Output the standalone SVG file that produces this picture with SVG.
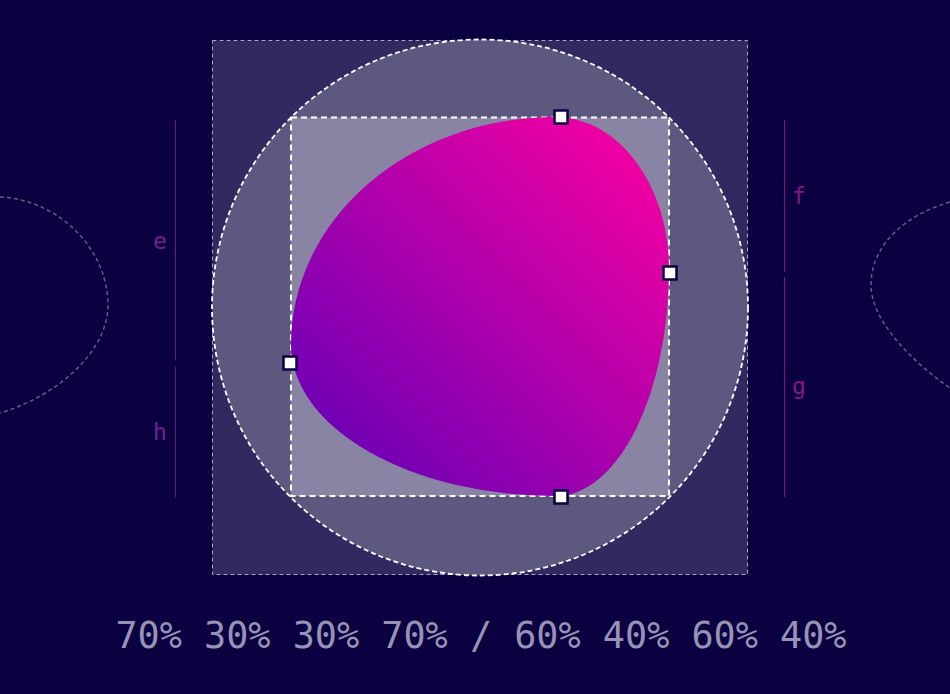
<svg xmlns="http://www.w3.org/2000/svg" width="950" height="694" viewBox="0 0 950 694">
<style>
.ghost{fill:none;stroke:#615d8a;stroke-width:1.5;stroke-dasharray:4 3}
.handle{fill:#ffffff;stroke:#0b0040;stroke-width:2.5}
.lbl{font-family:"DejaVu Sans Mono","Liberation Mono",monospace;font-size:23px;text-anchor:middle}
.lblL{fill:#6c2590}
.lblR{fill:#861683}
.lineL{stroke:#5e2088;stroke-width:1}
.lineR{stroke:#86107a;stroke-width:1}
</style>
<defs>
<linearGradient id="blobGrad" x1="291" y1="496" x2="669" y2="117" gradientUnits="userSpaceOnUse">
<stop offset="0" stop-color="#5a00b8"/>
<stop offset="1" stop-color="#ff00a0"/>
</linearGradient>
</defs>
<rect width="950" height="694" fill="#0b0040"/>
<g id="ghost-left"><path class="ghost" d="M0,197 C60,200 108,250 108,305 C108,350 60,395 0,413"/></g>
<g id="ghost-right"><path class="ghost" d="M950,202 C905,215 871,245 871,285 C871,320 910,360 950,388"/></g>
<g id="outer-square"><rect x="212.5" y="40.5" width="535" height="534" fill="#31295f" stroke="#a8a4c2" stroke-width="1" stroke-dasharray="4 3"/></g>
<g id="circle"><circle cx="480" cy="307.5" r="268" fill="#5d5880" stroke="#ffffff" stroke-width="1.8" stroke-dasharray="5 3"/></g>
<g id="inner-box"><rect x="291" y="117.5" width="378" height="378.5" fill="#8984a4" stroke="#ffffff" stroke-width="2" stroke-dasharray="6 4"/></g>
<g id="blob"><path fill="url(#blobGrad)" d="M291,344.4 A264.6,227.4 0 0 1 555.6,117 A113.4,151.6 0 0 1 669,268.6 A113.4,227.4 0 0 1 555.6,496 A264.6,151.6 0 0 1 291,344.4 Z"/></g>
<g id="handles">
<rect class="handle" x="554.5" y="110.5" width="13" height="13"/>
<rect class="handle" x="663.5" y="266.5" width="13" height="13"/>
<rect class="handle" x="554.5" y="490.5" width="13" height="13"/>
<rect class="handle" x="283.5" y="356.5" width="13" height="13"/>
</g>
<g id="connectors">
<line class="lineL" x1="175.5" y1="120" x2="175.5" y2="360"/>
<line class="lineL" x1="175.5" y1="367" x2="175.5" y2="497"/>
<line class="lineR" x1="784.5" y1="120" x2="784.5" y2="272"/>
<line class="lineR" x1="784.5" y1="277" x2="784.5" y2="497"/>
</g>
<g id="label-e"><text class="lbl lblL" x="160" y="249">e</text></g>
<g id="label-h"><text class="lbl lblL" x="160" y="440">h</text></g>
<g id="label-f"><text class="lbl lblR" x="799" y="204">f</text></g>
<g id="label-g"><text class="lbl lblR" x="799" y="394">g</text></g>
<g id="caption"><text x="481" y="648" font-family="DejaVu Sans Mono,Liberation Mono,monospace" font-size="36.8" fill="#9793b6" text-anchor="middle">70% 30% 30% 70% / 60% 40% 60% 40%</text></g>
</svg>
